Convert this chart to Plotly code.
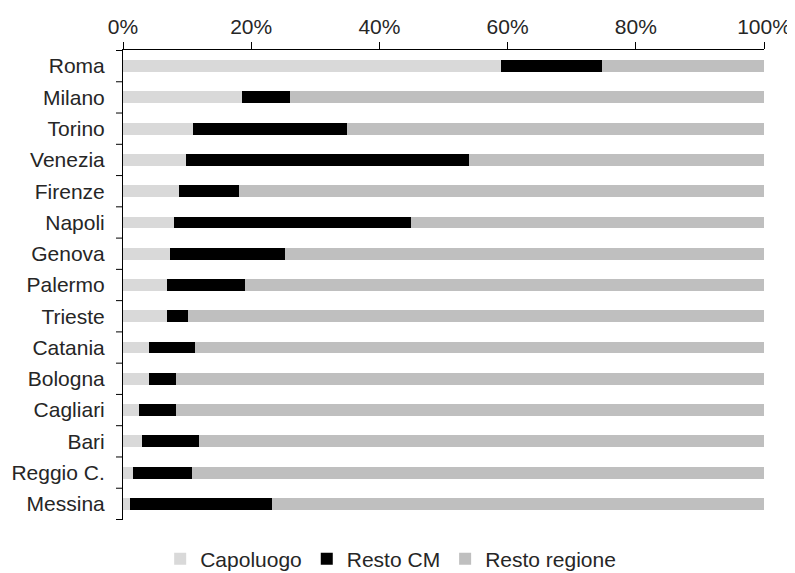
import plotly.graph_objects as go

cities = ["Roma", "Milano", "Torino", "Venezia", "Firenze", "Napoli", "Genova", "Palermo",
          "Trieste", "Catania", "Bologna", "Cagliari", "Bari", "Reggio C.", "Messina"]
capoluogo = [59.0, 18.5, 10.9, 9.9, 8.7, 7.9, 7.3, 6.9, 6.9, 4.1, 4.1, 2.5, 2.9, 1.5, 1.1]
resto_cm = [15.8, 7.5, 24.1, 44.1, 9.4, 37.0, 18.0, 12.2, 3.2, 7.2, 4.2, 5.8, 9.0, 9.2, 22.1]
resto_regione = [round(100 - a - b, 1) for a, b in zip(capoluogo, resto_cm)]
x_ticks = [0, 20, 40, 60, 80, 100]
x_ticktext = ["0%", "20%", "40%", "60%", "80%", "100%"]

series = [
    ("Capoluogo", capoluogo, "#d9d9d9"),
    ("Resto CM", resto_cm, "#000000"),
    ("Resto regione", resto_regione, "#bfbfbf"),
]

W, H = 787, 600
ML, MR, MT, MB = 115, 31, 42, 88
plot_w = W - ML - MR
plot_h = H - MT - MB

fig = go.Figure()
for name, vals, col in series:
    fig.add_trace(go.Bar(
        y=cities, x=vals, name=name, orientation="h",
        marker=dict(color=col, line=dict(width=0)),
    ))

# category boundary ticks on the y axis
tick_px = 7
for i in range(len(cities) + 1):
    fig.add_shape(type="line", xref="paper", yref="y",
                  x0=-tick_px / plot_w, x1=0, y0=i - 0.5, y1=i - 0.5,
                  line=dict(color="#000000", width=1))

fig.update_layout(
    barmode="stack",
    bargap=0.62,
    width=W, height=H,
    margin=dict(l=ML, r=MR, t=MT, b=MB),
    paper_bgcolor="white", plot_bgcolor="white",
    font=dict(family="Liberation Sans, Arial, sans-serif", size=21, color="#262626"),
    legend=dict(orientation="h", x=0.058, xanchor="left", y=-39 / plot_h, yanchor="middle",
                font=dict(size=21), traceorder="normal", itemwidth=30),
    xaxis=dict(side="top", range=[0, 100], tickvals=x_ticks, ticktext=x_ticktext,
               showgrid=False, zeroline=False, showline=True, linecolor="#000000",
               linewidth=1, ticks="outside", ticklen=7, tickcolor="#000000",
               automargin=False, ticklabeloverflow="allow", fixedrange=True),
    yaxis=dict(autorange="reversed", showgrid=False, showline=True, linecolor="#000000",
               linewidth=1, ticks="", ticklabelstandoff=13, automargin=False),
)

fig.write_html("out.html")
